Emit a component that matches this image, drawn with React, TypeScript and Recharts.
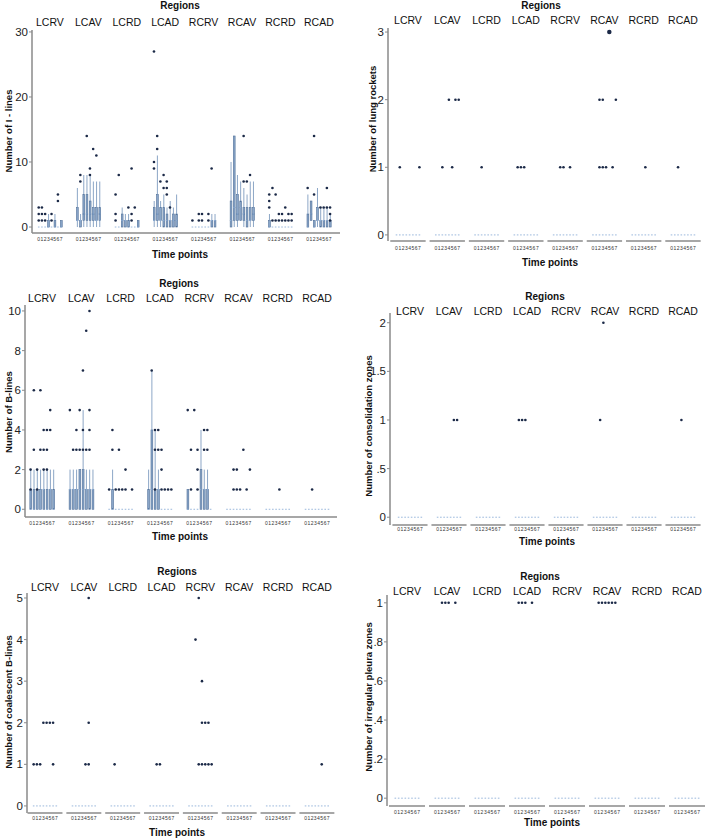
import React from 'react';
import { ComposedChart, Bar, Scatter, XAxis, YAxis, ReferenceLine, Label } from 'recharts';

const REGIONS = ['LCRV', 'LCAV', 'LCRD', 'LCAD', 'RCRV', 'RCAV', 'RCRD', 'RCAD'];
const TIME_POINTS = [0, 1, 2, 3, 4, 5, 6, 7];
const SLOT = 12; // x units per region (8 time points + gap)

// box plots: [region, time point, low whisker, q1, median, q3, high whisker]
// dots (outliers): [region, time point, value, overlapping count?]
const iLinesBoxes = [
  [0, 3, 0, 0, 0, 1, 2], [0, 5, 0, 0, 0, 1, 2], [0, 7, 0, 0, 0, 1, 1],
  [1, 0, 0, 1, 1, 3, 6], [1, 1, 0, 0, 1, 1, 2], [1, 2, 0, 1, 2, 5, 8], [1, 3, 0, 1, 2, 5, 8],
  [1, 4, 0, 1, 2, 4, 8], [1, 5, 0, 1, 2, 3, 7], [1, 6, 0, 1, 1, 3, 7], [1, 7, 0, 1, 2, 3, 7],
  [2, 2, 0, 0, 1, 2, 3], [2, 3, 0, 0, 1, 1, 2], [2, 4, 0, 0, 0, 1, 2], [2, 7, 0, 0, 0, 1, 1],
  [3, 0, 0, 1, 1, 3, 4], [3, 1, 0, 1, 2, 5, 11], [3, 2, 0, 1, 1, 3, 4], [3, 3, 0, 0, 1, 3, 5],
  [3, 4, 0, 0, 1, 2, 3], [3, 5, 0, 0, 1, 1, 4], [3, 6, 0, 0, 1, 2, 3], [3, 7, 0, 0, 1, 2, 5],
  [4, 6, 0, 0, 1, 1, 2], [4, 7, 0, 0, 1, 1, 2],
  [5, 0, 0, 0, 1, 4, 10], [5, 1, 0, 1, 3, 14, 14], [5, 2, 0, 1, 2, 5, 8], [5, 3, 1, 1, 3, 4, 7],
  [5, 4, 0, 1, 2, 3, 6], [5, 5, 0, 0, 1, 3, 5], [5, 6, 0, 1, 1, 3, 7], [5, 7, 0, 1, 2, 3, 7],
  [6, 0, 0, 0, 0, 1, 2],
  [7, 0, 0, 0, 0, 2, 5], [7, 1, 1, 1, 2, 4, 4], [7, 2, 0, 0, 0, 1, 1], [7, 3, 0, 1, 1, 3, 6],
  [7, 4, 0, 0, 1, 1, 3], [7, 5, 0, 0, 1, 1, 3], [7, 6, 0, 0, 1, 1, 3], [7, 7, 0, 0, 1, 1, 2],
];
const iLinesDots = [
  [0, 0, 1], [0, 0, 2], [0, 0, 3], [0, 1, 1], [0, 1, 2], [0, 1, 3], [0, 2, 1], [0, 2, 2],
  [0, 4, 1], [0, 4, 2], [0, 6, 4], [0, 6, 5],
  [1, 1, 7], [1, 1, 8], [1, 3, 14], [1, 4, 9], [1, 4, 8], [1, 5, 12], [1, 6, 11],
  [2, 0, 1], [2, 0, 2], [2, 0, 5], [2, 1, 8], [2, 4, 3], [2, 5, 1], [2, 5, 2], [2, 5, 9], [2, 6, 3],
  [3, 0, 9], [3, 0, 10], [3, 0, 27], [3, 1, 12], [3, 1, 14], [3, 2, 7], [3, 3, 8], [3, 3, 6],
  [3, 4, 7], [3, 4, 6], [3, 4, 5], [3, 5, 3],
  [4, 0, 1], [4, 2, 1], [4, 2, 2], [4, 3, 1], [4, 3, 2], [4, 5, 1], [4, 5, 2], [4, 6, 9],
  [5, 4, 14], [5, 4, 7], [5, 5, 7], [5, 6, 8],
  [6, 0, 3], [6, 0, 4], [6, 0, 5], [6, 1, 6], [6, 1, 1], [6, 2, 5], [6, 2, 1], [6, 3, 1], [6, 3, 2],
  [6, 4, 1], [6, 4, 2], [6, 5, 1], [6, 5, 3], [6, 6, 1], [6, 6, 2], [6, 7, 1], [6, 7, 2],
  [7, 0, 6], [7, 2, 5], [7, 2, 14], [7, 4, 3], [7, 5, 3], [7, 6, 3], [7, 6, 6], [7, 7, 3], [7, 7, 2], [7, 7, 1],
];

const bLinesBoxes = [
  [0, 0, 0, 0, 0, 1, 2], [0, 1, 0, 0, 0, 1, 2], [0, 2, 0, 0, 1, 1, 2], [0, 3, 0, 0, 0, 1, 2],
  [0, 4, 0, 0, 1, 1, 2], [0, 5, 0, 0, 0, 1, 2], [0, 6, 0, 0, 1, 1, 2], [0, 7, 0, 0, 0, 1, 2],
  [1, 0, 0, 0, 1, 1, 2], [1, 1, 0, 0, 1, 1, 2], [1, 2, 0, 0, 1, 1, 2], [1, 3, 0, 0, 1, 2, 2],
  [1, 4, 0, 0, 1, 2, 5], [1, 5, 0, 0, 1, 1, 2], [1, 6, 0, 0, 1, 1, 2], [1, 7, 0, 0, 1, 1, 2],
  [2, 1, 0, 0, 0, 1, 2],
  [3, 0, 0, 0, 0, 1, 2], [3, 1, 0, 0, 1, 4, 7], [3, 2, 0, 0, 1, 1, 4], [3, 3, 0, 0, 1, 1, 2],
  [4, 0, 0, 0, 0, 1, 1], [4, 4, 0, 0, 1, 2, 4], [4, 5, 0, 0, 1, 1, 2], [4, 6, 0, 0, 1, 1, 2],
];
const bLinesDots = [
  [0, 0, 2], [0, 0, 1], [0, 1, 6], [0, 1, 3], [0, 2, 2], [0, 2, 1], [0, 3, 6], [0, 3, 3],
  [0, 4, 3], [0, 4, 4], [0, 4, 2], [0, 5, 4], [0, 5, 3], [0, 5, 2], [0, 6, 5], [0, 6, 4],
  [1, 0, 5], [1, 1, 3], [1, 2, 3], [1, 2, 4], [1, 3, 3], [1, 3, 5], [1, 4, 7], [1, 4, 4],
  [1, 4, 3], [1, 5, 9], [1, 5, 3], [1, 6, 10], [1, 6, 5], [1, 6, 4], [1, 6, 3],
  [2, 0, 1], [2, 1, 4], [2, 1, 3], [2, 2, 1], [2, 3, 3], [2, 3, 1], [2, 4, 1], [2, 5, 2], [2, 5, 1], [2, 7, 1],
  [3, 1, 7], [3, 2, 4], [3, 2, 3], [3, 2, 1], [3, 3, 4], [3, 3, 3], [3, 4, 3], [3, 4, 2], [3, 4, 1],
  [3, 5, 1], [3, 6, 1], [3, 7, 1],
  [4, 0, 5], [4, 1, 3], [4, 1, 1], [4, 2, 5], [4, 3, 3], [4, 3, 2], [4, 3, 1], [4, 5, 4], [4, 5, 3],
  [4, 6, 4], [4, 6, 3],
  [5, 2, 2], [5, 2, 1], [5, 3, 2], [5, 3, 1], [5, 4, 1], [5, 5, 3], [5, 6, 1], [5, 7, 2],
  [6, 4, 1], [7, 2, 1],
];

const coalescentDots = [
  [0, 0, 1], [0, 1, 1], [0, 2, 1], [0, 6, 1], [0, 3, 2], [0, 4, 2], [0, 5, 2], [0, 6, 2],
  [1, 5, 5], [1, 5, 2], [1, 4, 1], [1, 5, 1],
  [2, 1, 1], [3, 2, 1], [3, 3, 1],
  [4, 3, 5], [4, 2, 4], [4, 4, 3], [4, 4, 2], [4, 5, 2], [4, 6, 2],
  [4, 3, 1], [4, 4, 1], [4, 5, 1], [4, 6, 1], [4, 7, 1],
  [7, 5, 1],
];

const lungRocketDots = [
  [0, 1, 1], [0, 7, 1],
  [1, 2, 1], [1, 5, 1], [1, 4, 2], [1, 6, 2], [1, 7, 2],
  [2, 2, 1], [3, 1, 1], [3, 2, 1], [3, 3, 1],
  [4, 2, 1], [4, 3, 1], [4, 5, 1],
  [5, 5, 3, 3], [5, 2, 2], [5, 3, 2], [5, 7, 2], [5, 2, 1], [5, 3, 1], [5, 4, 1], [5, 6, 1],
  [6, 4, 1], [7, 2, 1],
];

const consolidationDots = [
  [1, 5, 1], [1, 6, 1],
  [3, 1, 1], [3, 2, 1], [3, 3, 1],
  [5, 3, 2], [5, 2, 1],
  [7, 3, 1],
];

const pleuraDots = [
  [1, 2, 1], [1, 3, 1], [1, 4, 1], [1, 6, 1],
  [3, 1, 1], [3, 2, 1], [3, 3, 1], [3, 5, 1],
  [5, 1, 1], [5, 2, 1], [5, 3, 1], [5, 4, 1], [5, 5, 1], [5, 6, 1],
];

const FONT = '"Liberation Sans", Arial, sans-serif';
const AXIS_GREY = '#8a8a8a';
const BOX_FILL = '#8aa6c9';
const BOX_EDGE = '#4f6f98';
const WHISKER = '#6f8fb8';
const DOT = '#1b2947';
const ZERO_DASH = '#8fb0d8';

const regionCenters = REGIONS.map((_, r) => r * SLOT + 3.5);
const timeSlots = REGIONS.flatMap((_, r) => TIME_POINTS.map(t => r * SLOT + t));

function buildRows(boxes: number[][]) {
  const rows: any[] = [];
  REGIONS.forEach((_, r) => {
    TIME_POINTS.forEach(t => {
      const b = boxes.find(e => e[0] === r && e[1] === t);
      const [lo, q1, med, q3, hi] = b ? b.slice(2) : [0, 0, 0, 0, 0];
      rows.push({ slot: r * SLOT + t, base: lo, w1: q1 - lo, b1: med - q1, b2: q3 - med, w2: hi - q3, med });
    });
  });
  return rows;
}

const Empty = () => <g />;

const WhiskerShape = (p: any) =>
  p.height > 0.05 ? (
    <line x1={p.x + p.width / 2} x2={p.x + p.width / 2} y1={p.y} y2={p.y + p.height} stroke={WHISKER} strokeWidth={0.8} />
  ) : (
    <g />
  );

// box drawn with a fixed width, centred on the bar slot
const makeBoxShape = (w: number) => (p: any) =>
  p.height > 0.05 ? (
    <rect x={p.x + p.width / 2 - w / 2} y={p.y} width={w} height={p.height} fill={BOX_FILL} stroke={BOX_EDGE} strokeWidth={0.6} />
  ) : (
    <g />
  );

const MedianDash = (p: any) => (
  <line x1={p.cx - 0.8} x2={p.cx + 0.8} y1={p.cy} y2={p.cy} stroke={ZERO_DASH} strokeWidth={0.9} />
);

const DotShape = (p: any) => <circle cx={p.cx} cy={p.cy} r={1.3 * Math.sqrt(p.payload.n)} fill={DOT} />;

type PanelCfg = {
  left: number; top: number; width: number; height: number;
  plot: { l: number; t: number; r: number; b: number };
  xDomain: [number, number]; yDomain: [number, number]; yTicks: number[];
  regionsX: number; regionsY: number; regionLabelY: number;
  timeTickY: number; timeTitleX: number; timeTitleY: number;
  yLabel: string; yLabelX: number; yLabelY: number;
  segmented: boolean;
  boxes: number[][]; dots: number[][];
};

const fmtY = (v: number) => (v === 0 ? '0' : String(v).replace(/^0\./, '.'));

function Panel({ cfg }: { cfg: PanelCfg }) {
  const rows = buildRows(cfg.boxes);
  const dots = cfg.dots.map(([r, t, v, n]) => ({ slot: r * SLOT + t, value: v, n: n ?? 1 }));
  const medians = rows.map(row => ({ slot: row.slot, value: row.med }));
  const { l, t, r, b } = cfg.plot;
  const ox = cfg.left;
  const oy = cfg.top;
  const unit = (r - l) / (cfg.xDomain[1] - cfg.xDomain[0]);
  const BoxShape = makeBoxShape(unit * 0.55);

  return (
    <div style={{ position: 'absolute', left: cfg.left, top: cfg.top }}>
      <ComposedChart
        width={cfg.width}
        height={cfg.height}
        data={rows}
        margin={{ top: 0, right: ox + cfg.width - r, bottom: 0, left: 0 }}
      >
        <XAxis
          xAxisId="top"
          orientation="top"
          type="number"
          dataKey="slot"
          domain={cfg.xDomain}
          allowDataOverflow
          ticks={regionCenters}
          interval={0}
          height={t - oy}
          axisLine={false}
          tickLine={false}
          tick={(p: any) => (
            <text x={p.x} y={cfg.regionLabelY - oy} textAnchor="middle" dominantBaseline="central"
              fontSize={10.5} fontFamily={FONT} fill="#111">
              {REGIONS[Math.round((p.payload.value - 3.5) / SLOT)]}
            </text>
          )}
        >
          <Label content={() => (
            <text x={cfg.regionsX - ox} y={cfg.regionsY - oy} textAnchor="middle" dominantBaseline="central"
              fontSize={10} fontWeight="bold" fontFamily={FONT} fill="#111">Regions</text>
          )} />
        </XAxis>
        <XAxis
          type="number"
          dataKey="slot"
          domain={cfg.xDomain}
          allowDataOverflow
          ticks={timeSlots}
          interval={0}
          height={oy + cfg.height - b}
          axisLine={cfg.segmented ? false : { stroke: AXIS_GREY, strokeWidth: 1.5 }}
          tickLine={false}
          tick={(p: any) => (
            <text x={p.x} y={cfg.timeTickY - oy} textAnchor="middle" dominantBaseline="central"
              fontSize={5} fontFamily={FONT} fill="#333">
              {Math.round(p.payload.value) % SLOT}
            </text>
          )}
        >
          <Label content={() => (
            <text x={cfg.timeTitleX - ox} y={cfg.timeTitleY - oy} textAnchor="middle" dominantBaseline="central"
              fontSize={10} fontWeight="bold" fontFamily={FONT} fill="#111">Time points</text>
          )} />
        </XAxis>
        <YAxis
          type="number"
          domain={cfg.yDomain}
          allowDataOverflow
          ticks={cfg.yTicks}
          interval={0}
          width={l - ox}
          tickFormatter={fmtY}
          axisLine={{ stroke: AXIS_GREY, strokeWidth: 1.5 }}
          tickLine={{ stroke: AXIS_GREY }}
          tickSize={3}
          tickMargin={1}
          tick={{ fontSize: 11.5, fill: '#222', fontFamily: FONT }}
        >
          <Label content={() => (
            <text x={cfg.yLabelX - ox} y={cfg.yLabelY - oy} textAnchor="middle" dominantBaseline="central"
              transform={`rotate(-90 ${cfg.yLabelX - ox} ${cfg.yLabelY - oy})`}
              fontSize={9.5} fontWeight="bold" fontFamily={FONT} fill="#111">{cfg.yLabel}</text>
          )} />
        </YAxis>

        <Bar dataKey="base" stackId="box" shape={Empty} isAnimationActive={false} />
        <Bar dataKey="w1" stackId="box" shape={WhiskerShape} isAnimationActive={false} />
        <Bar dataKey="b1" stackId="box" shape={BoxShape} isAnimationActive={false} />
        <Bar dataKey="b2" stackId="box" shape={BoxShape} isAnimationActive={false} />
        <Bar dataKey="w2" stackId="box" shape={WhiskerShape} isAnimationActive={false} />

        <Scatter data={medians} dataKey="value" shape={MedianDash} isAnimationActive={false} />
        <Scatter data={dots} dataKey="value" shape={DotShape} isAnimationActive={false} />

        {cfg.segmented &&
          regionCenters.map(c => (
            <ReferenceLine
              key={c}
              segment={[{ x: c - 5.4, y: cfg.yDomain[0] }, { x: c + 5.4, y: cfg.yDomain[0] }]}
              stroke={AXIS_GREY}
              strokeWidth={1.5}
              ifOverflow="visible"
            />
          ))}
      </ComposedChart>
    </div>
  );
}

const panels: PanelCfg[] = [
  {
    left: 0, top: 0, width: 355, height: 265,
    plot: { l: 32, t: 30, r: 340, b: 233 },
    xDomain: [-2.1, 94.1], yDomain: [-0.92, 30.3], yTicks: [0, 10, 20, 30],
    regionsX: 180, regionsY: 5, regionLabelY: 22,
    timeTickY: 239, timeTitleX: 180, timeTitleY: 254,
    yLabel: 'Number of I - lines', yLabelX: 8, yLabelY: 131,
    segmented: false, boxes: iLinesBoxes, dots: iLinesDots,
  },
  {
    left: 0, top: 278, width: 355, height: 265,
    plot: { l: 25, t: 305, r: 337, b: 517 },
    xDomain: [-1.7, 93.6], yDomain: [-0.39, 10.3], yTicks: [0, 2, 4, 6, 8, 10],
    regionsX: 179, regionsY: 283, regionLabelY: 298,
    timeTickY: 523, timeTitleX: 180, timeTitleY: 536,
    yLabel: 'Number of B-lines', yLabelX: 8, yLabelY: 412,
    segmented: false, boxes: bLinesBoxes, dots: bLinesDots,
  },
  {
    left: 0, top: 560, width: 355, height: 279,
    plot: { l: 27, t: 593, r: 335, b: 813 },
    xDomain: [-2.06, 93.1], yDomain: [-0.17, 5.12], yTicks: [0, 1, 2, 3, 4, 5],
    regionsX: 177, regionsY: 571, regionLabelY: 587,
    timeTickY: 818, timeTitleX: 177, timeTitleY: 832,
    yLabel: 'Number of coalescent B-lines', yLabelX: 8, yLabelY: 702,
    segmented: true, boxes: [], dots: coalescentDots,
  },
  {
    left: 355, top: 0, width: 354, height: 270,
    plot: { l: 388, t: 28, r: 700, b: 241 },
    xDomain: [-2.6, 92.7], yDomain: [-0.09, 3.06], yTicks: [0, 1, 2, 3],
    regionsX: 541, regionsY: 5, regionLabelY: 20,
    timeTickY: 248, timeTitleX: 550, timeTitleY: 262,
    yLabel: 'Number of lung rockets', yLabelX: 372, yLabelY: 119,
    segmented: true, boxes: [], dots: lungRocketDots,
  },
  {
    left: 355, top: 280, width: 354, height: 270,
    plot: { l: 390, t: 313, r: 697, b: 525 },
    xDomain: [-2.65, 91.8], yDomain: [-0.08, 2.1], yTicks: [0, 0.5, 1, 1.5, 2],
    regionsX: 545, regionsY: 296, regionLabelY: 311,
    timeTickY: 529, timeTitleX: 547, timeTitleY: 541,
    yLabel: 'Number of consolidation zones', yLabelX: 368, yLabelY: 426,
    segmented: true, boxes: [], dots: consolidationDots,
  },
  {
    left: 355, top: 560, width: 354, height: 279,
    plot: { l: 387, t: 595, r: 702, b: 806 },
    xDomain: [-2.5, 92], yDomain: [-0.04, 1.04], yTicks: [0, 0.2, 0.4, 0.6, 0.8, 1],
    regionsX: 540, regionsY: 576, regionLabelY: 591,
    timeTickY: 812, timeTitleX: 552, timeTitleY: 822,
    yLabel: 'Number of irregular pleura zones', yLabelX: 368, yLabelY: 697,
    segmented: true, boxes: [], dots: pleuraDots,
  },
];

export default function App() {
  return (
    <div style={{ position: 'absolute', left: 0, top: 0, width: 709, height: 839, overflow: 'hidden', background: '#fff' }}>
      {panels.map((cfg, i) => (
        <Panel key={i} cfg={cfg} />
      ))}
    </div>
  );
}
